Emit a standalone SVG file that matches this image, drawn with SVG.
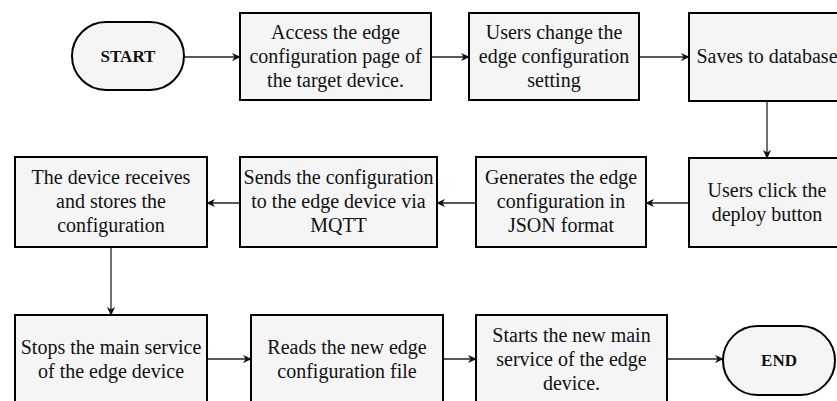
<svg xmlns="http://www.w3.org/2000/svg" width="837" height="401" viewBox="0 0 837 401">
<defs>
<style>
.box{fill:#f5f5f5;stroke:#000;stroke-width:2}
.t{font-family:'Liberation Serif','Times New Roman',serif;font-size:20px;fill:#111;text-anchor:middle}
.b{font-family:'Liberation Serif','Times New Roman',serif;font-size:17px;font-weight:bold;fill:#111;text-anchor:middle}
.c{fill:none;stroke:#222;stroke-width:1.3;marker-end:url(#ah)}
</style>
<marker id="ah" viewBox="0 0 10 10" refX="9" refY="5" markerWidth="9" markerHeight="9" markerUnits="userSpaceOnUse" orient="auto">
<path d="M0,0.5 L10,5 L0,9.5 L3,5 z" fill="#111"/>
</marker>
</defs>
<rect width="837" height="401" fill="#fff"/>
<g id="connectors">
<line class="c" x1="184" y1="57" x2="240" y2="57"/>
<line class="c" x1="431" y1="57" x2="469" y2="57"/>
<line class="c" x1="639" y1="57" x2="689" y2="57"/>
<line class="c" x1="767" y1="101" x2="767" y2="158"/>
<line class="c" x1="689" y1="203" x2="646" y2="203"/>
<line class="c" x1="476" y1="203" x2="437" y2="203"/>
<line class="c" x1="240" y1="203" x2="207" y2="203"/>
<line class="c" x1="111" y1="247" x2="111" y2="315"/>
<line class="c" x1="207" y1="359" x2="251" y2="359"/>
<line class="c" x1="443" y1="359" x2="476" y2="359"/>
<line class="c" x1="667" y1="359" x2="723" y2="359"/>
</g>
<g id="start">
<rect class="box" x="72" y="22" width="112" height="68" rx="34"/>
<text class="b" x="128" y="62">START</text>
</g>
<g id="access">
<rect class="box" x="240" y="13" width="191" height="87"/>
<text class="t" x="335.5" y="38.5">Access the edge</text>
<text class="t" x="335.5" y="62.5">configuration page of</text>
<text class="t" x="335.5" y="86.5">the target device.</text>
</g>
<g id="change">
<rect class="box" x="469" y="13" width="170" height="87"/>
<text class="t" x="554" y="38.5">Users change the</text>
<text class="t" x="554" y="62.5">edge configuration</text>
<text class="t" x="554" y="86.5">setting</text>
</g>
<g id="saves">
<rect class="box" x="689" y="13" width="156" height="88"/>
<text class="t" x="767" y="63">Saves to database</text>
</g>
<g id="deploy">
<rect class="box" x="689" y="158" width="156" height="89"/>
<text class="t" x="767" y="197">Users click the</text>
<text class="t" x="767" y="221">deploy button</text>
</g>
<g id="generate">
<rect class="box" x="476" y="157" width="170" height="90"/>
<text class="t" x="561" y="184">Generates the edge</text>
<text class="t" x="561" y="208">configuration in</text>
<text class="t" x="561" y="232">JSON format</text>
</g>
<g id="sends">
<rect class="box" x="240" y="157" width="197" height="90"/>
<text class="t" x="338.5" y="184">Sends the configuration</text>
<text class="t" x="338.5" y="208">to the edge device via</text>
<text class="t" x="338.5" y="232">MQTT</text>
</g>
<g id="receives">
<rect class="box" x="15" y="157" width="192" height="90"/>
<text class="t" x="111" y="184">The device receives</text>
<text class="t" x="111" y="208">and stores the</text>
<text class="t" x="111" y="232">configuration</text>
</g>
<g id="stops">
<rect class="box" x="15" y="315" width="192" height="90"/>
<text class="t" x="111" y="354">Stops the main service</text>
<text class="t" x="111" y="378">of the edge device</text>
</g>
<g id="reads">
<rect class="box" x="251" y="315" width="192" height="90"/>
<text class="t" x="347" y="354">Reads the new edge</text>
<text class="t" x="347" y="378">configuration file</text>
</g>
<g id="starts">
<rect class="box" x="476" y="315" width="191" height="90"/>
<text class="t" x="571.5" y="342">Starts the new main</text>
<text class="t" x="571.5" y="366">service of the edge</text>
<text class="t" x="571.5" y="390">device.</text>
</g>
<g id="end">
<rect class="box" x="723" y="326" width="112" height="69" rx="34.5"/>
<text class="b" x="779" y="366">END</text>
</g>
</svg>
